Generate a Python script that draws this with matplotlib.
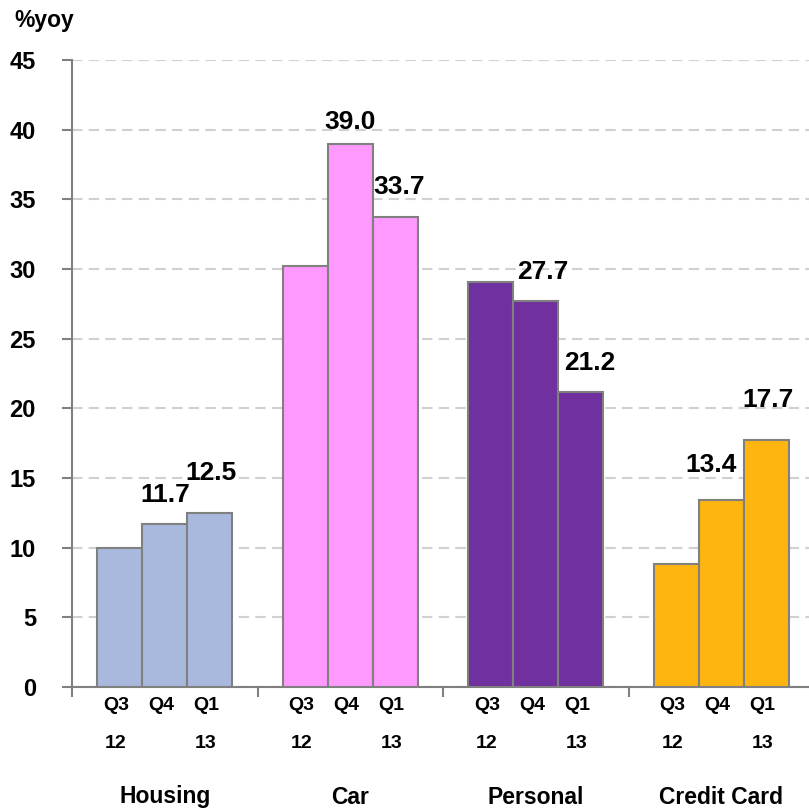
import matplotlib
matplotlib.use("Agg")
import matplotlib.pyplot as plt
import numpy as np

plt.rcParams['font.family'] = ['Liberation Sans', 'DejaVu Sans']
plt.rcParams['font.weight'] = 'bold'

# Loan growth by segment, % year on year
categories = ["Housing", "Car", "Personal", "Credit Card"]
quarters = ["Q3", "Q4", "Q1"]
years = ["12", "", "13"]
values = {
    "Housing":     [10.0, 11.7, 12.5],
    "Car":         [30.2, 39.0, 33.7],
    "Personal":    [29.1, 27.7, 21.2],
    "Credit Card": [8.8, 13.4, 17.7],
}
labelled = [1, 2]  # quarters whose value is printed above the bar

colors = ["#A9B9DD", "#FF99FF", "#7030A0", "#FFB50F"]
# label nudges (x, y) in pixels relative to the bar top
label_nudge = {
    "Housing":     [None, (0, 29), (1, 40)],
    "Car":         [None, (0, 22), (4, 30)],
    "Personal":    [None, (7, 29), (9, 29)],
    "Credit Card": [None, (-10, 35), (2, 40)],
}

W, H = 809, 811
PX = 72 / 100  # points per pixel at 100 dpi
fig = plt.figure(figsize=(W / 100, H / 100), dpi=100)
left, right, bottom, top = 72, 814, 687, 60
ax = fig.add_axes([left / W, (H - bottom) / H, (right - left) / W, (bottom - top) / H])

bw = 0.243
offsets = np.array([-1, 0, 1]) * bw

for gi, cat in enumerate(categories):
    xs = gi + offsets
    ax.bar(xs, values[cat], width=bw, color=colors[gi], edgecolor="#808080",
           linewidth=1.5, zorder=3)
    for qi in labelled:
        v = values[cat][qi]
        dx, dy = label_nudge[cat][qi]
        ax.annotate(f"{v:.1f}", (xs[qi], v), xytext=(dx, dy),
                    textcoords="offset pixels", ha="center", va="center",
                    fontsize=19, fontweight="bold", zorder=4)
    for qi, (q, y) in enumerate(zip(quarters, years)):
        ax.text(xs[qi] - 0.02, -18 / 627, q, transform=ax.get_xaxis_transform(),
                ha="center", va="center", fontsize=14, fontweight="bold")
        if y:
            ax.text(xs[qi] - 0.02, -56 / 627, y, transform=ax.get_xaxis_transform(),
                    ha="center", va="center", fontsize=14, fontweight="bold")
    ax.text(gi, -110 / 627, cat, transform=ax.get_xaxis_transform(),
            ha="center", va="center", fontsize=16.5, fontweight="bold")

ax.set_xlim(-0.5, 3.5)
ax.set_ylim(0, 45)
ax.set_yticks(np.arange(0, 46, 5))
ax.set_xticks([-0.5, 0.5, 1.5, 2.5])
ax.set_xticklabels([])
ax.tick_params(axis="x", length=10 * PX, width=1.5, color="#808080", direction="out")
ax.tick_params(axis="y", length=10 * PX, width=1.5, color="#808080", direction="out",
               labelsize=17, pad=26 * PX)
for lab in ax.get_yticklabels():
    lab.set_fontweight("bold")

ax.grid(axis="y", linestyle=(0, (5, 3)), color="#D0D0D0", linewidth=1.5, zorder=0)
for s in ["top", "right"]:
    ax.spines[s].set_visible(False)
for s in ["left", "bottom"]:
    ax.spines[s].set_color("#808080")
    ax.spines[s].set_linewidth(1.5)

fig.text(14 / W, 1 - 20 / H, "%yoy", ha="left", va="center", fontsize=16.5,
         fontweight="bold")

fig.savefig("out.png", dpi=100)
